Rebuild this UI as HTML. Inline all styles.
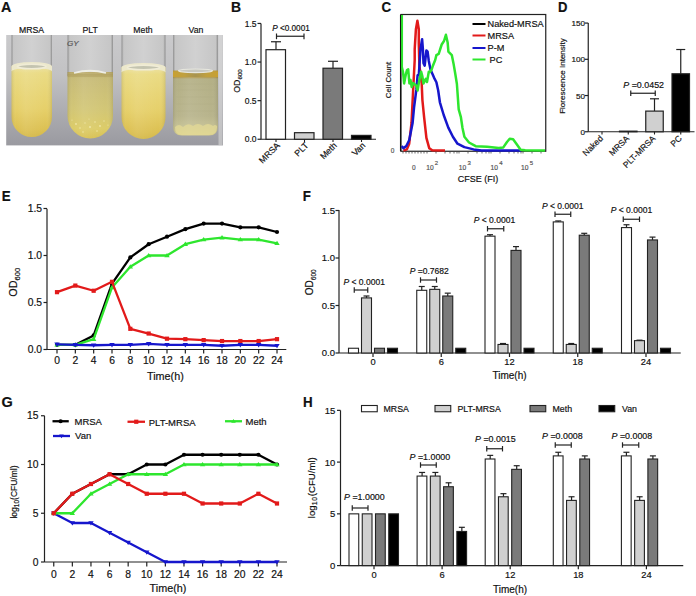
<!DOCTYPE html>
<html><head><meta charset="utf-8"><style>
html,body{margin:0;padding:0;background:#fff;}
svg{display:block;font-family:"Liberation Sans", sans-serif;}
text{stroke-width:0.18px;}
</style></head><body>
<svg width="696" height="596" viewBox="0 0 696 596">
<text x="0.00" y="0.00" font-size="14.3" text-anchor="start" font-weight="bold" fill="#111" stroke="#111" transform="translate(1.0 11.7) scale(1.0 1)">A</text>
<text x="0.00" y="0.00" font-size="14.5" text-anchor="start" font-weight="bold" fill="#111" stroke="#111" transform="translate(231.0 12.4) scale(0.96 1)">B</text>
<text x="0.00" y="0.00" font-size="14.5" text-anchor="start" font-weight="bold" fill="#111" stroke="#111" transform="translate(381.6 12.0) scale(0.92 1)">C</text>
<text x="0.00" y="0.00" font-size="14.5" text-anchor="start" font-weight="bold" fill="#111" stroke="#111" transform="translate(557.9 11.8) scale(0.9 1)">D</text>
<text x="0.00" y="0.00" font-size="14.5" text-anchor="start" font-weight="bold" fill="#111" stroke="#111" transform="translate(1.7 200.6) scale(0.92 1)">E</text>
<text x="0.00" y="0.00" font-size="14.5" text-anchor="start" font-weight="bold" fill="#111" stroke="#111" transform="translate(302.8 200.6) scale(0.92 1)">F</text>
<text x="0.00" y="0.00" font-size="14.5" text-anchor="start" font-weight="bold" fill="#111" stroke="#111" transform="translate(1.4 406.5) scale(1.0 1)">G</text>
<text x="0.00" y="0.00" font-size="14.5" text-anchor="start" font-weight="bold" fill="#111" stroke="#111" transform="translate(302.9 406.6) scale(0.92 1)">H</text>
<defs>
<linearGradient id="bg" x1="0" y1="0" x2="0" y2="1">
 <stop offset="0" stop-color="#cacacc"/><stop offset="0.35" stop-color="#c2c2c4"/><stop offset="0.7" stop-color="#acacb0"/><stop offset="1" stop-color="#9a9aa0"/></linearGradient>
<linearGradient id="yel" x1="0" y1="0" x2="0" y2="1">
 <stop offset="0" stop-color="#ece2a6"/><stop offset="0.1" stop-color="#eadb84"/><stop offset="0.6" stop-color="#e6d06a"/><stop offset="0.9" stop-color="#dcc052"/><stop offset="1" stop-color="#d4b848"/></linearGradient>
<linearGradient id="yelx" x1="0" y1="0" x2="1" y2="0">
 <stop offset="0" stop-color="#000" stop-opacity="0.10"/><stop offset="0.12" stop-color="#fff" stop-opacity="0.0"/><stop offset="0.35" stop-color="#fff" stop-opacity="0.08"/><stop offset="0.85" stop-color="#fff" stop-opacity="0.0"/><stop offset="1" stop-color="#000" stop-opacity="0.10"/></linearGradient>
<linearGradient id="plt" x1="0" y1="0" x2="0" y2="1">
 <stop offset="0" stop-color="#b8a868"/><stop offset="0.1" stop-color="#c8bc78"/><stop offset="0.55" stop-color="#d2c676"/><stop offset="0.85" stop-color="#dccc68"/><stop offset="1" stop-color="#d8c050"/></linearGradient>
<linearGradient id="van" x1="0" y1="0" x2="0" y2="1">
 <stop offset="0" stop-color="#c0a040"/><stop offset="0.1" stop-color="#b49848"/><stop offset="0.13" stop-color="#b4b086"/><stop offset="0.7" stop-color="#b8b48c"/><stop offset="0.85" stop-color="#c4c094"/><stop offset="1" stop-color="#d4cc8c"/></linearGradient>
<linearGradient id="glass" x1="0" y1="0" x2="1" y2="0">
 <stop offset="0" stop-color="#8a8a8a"/><stop offset="0.05" stop-color="#c6c6c6"/><stop offset="0.5" stop-color="#d2d2d2"/><stop offset="0.95" stop-color="#c6c6c6"/><stop offset="1" stop-color="#888888"/></linearGradient>
</defs>
<rect x="6.20" y="35.00" width="216.80" height="110.40" fill="url(#bg)" stroke="none" stroke-width="0"/>
<rect x="218.5" y="35" width="4" height="110.4" fill="#d8d8d8" opacity="0.6"/>
<rect x="11.50" y="35" width="40.50" height="35" fill="url(#glass)" opacity="0.9"/>
<path d="M11.5,66 L52,66 L52,116.75 A20.25,20.25 0 0 1 11.5,116.75 Z" fill="url(#yel)"/>
<path d="M11.5,66 L52,66 L52,116.75 A20.25,20.25 0 0 1 11.5,116.75 Z" fill="url(#yelx)"/>
<rect x="67.50" y="35" width="45.50" height="41" fill="url(#glass)" opacity="0.9"/>
<path d="M67.5,72 L113,72 L113,115.75 A22.75,22.75 0 0 1 67.5,115.75 Z" fill="url(#plt)"/>
<path d="M67.5,72 L113,72 L113,115.75 A22.75,22.75 0 0 1 67.5,115.75 Z" fill="url(#yelx)"/>
<rect x="121.50" y="35" width="44.00" height="36" fill="url(#glass)" opacity="0.9"/>
<path d="M121.5,67 L165.5,67 L165.5,117.0 A22.0,22.0 0 0 1 121.5,117.0 Z" fill="url(#yel)"/>
<path d="M121.5,67 L165.5,67 L165.5,117.0 A22.0,22.0 0 0 1 121.5,117.0 Z" fill="url(#yelx)"/>
<rect x="173.00" y="35" width="45.00" height="39.5" fill="url(#glass)" opacity="0.9"/>
<path d="M173,70.5 L218,70.5 L218,126.5 Q218,135.5 209,135.5 L182,135.5 Q173,135.5 173,126.5 Z" fill="url(#van)"/>
<path d="M173,70.5 L218,70.5 L218,126.5 Q218,135.5 209,135.5 L182,135.5 Q173,135.5 173,126.5 Z" fill="url(#yelx)"/>
<path d="M11.5,66.5 A20.25,4.5 0 0 1 52,66.5 L52,71.5 A20.25,3.5 0 0 0 11.5,71.5 Z" fill="#ece8cc"/>
<ellipse cx="31.75" cy="66.5" rx="14.25" ry="2.3" fill="#c4c4b0" stroke="#f0ecd6" stroke-width="1.6"/>
<path d="M121.5,67.5 A22.0,4.5 0 0 1 165.5,67.5 L165.5,72.5 A22.0,3.5 0 0 0 121.5,72.5 Z" fill="#ece8cc"/>
<ellipse cx="143.5" cy="67.5" rx="16.0" ry="2.3" fill="#c4c4b0" stroke="#f0ecd6" stroke-width="1.6"/>
<path d="M74,73 Q90,68.5 106,73" fill="none" stroke="#eeeee6" stroke-width="1.8"/>
<rect x="67.5" y="74" width="45.5" height="3" fill="#a08a48" opacity="0.25"/>
<circle cx="76" cy="124" r="0.9" fill="#f4ecb0" opacity="0.8"/>
<circle cx="80" cy="128" r="0.8" fill="#f4ecb0" opacity="0.8"/>
<circle cx="85" cy="123" r="0.7" fill="#f4ecb0" opacity="0.8"/>
<circle cx="90" cy="127" r="1.0" fill="#f4ecb0" opacity="0.8"/>
<circle cx="95" cy="122" r="0.8" fill="#f4ecb0" opacity="0.8"/>
<circle cx="100" cy="126" r="0.9" fill="#f4ecb0" opacity="0.8"/>
<circle cx="104" cy="121" r="0.7" fill="#f4ecb0" opacity="0.8"/>
<circle cx="83" cy="132" r="0.8" fill="#f4ecb0" opacity="0.8"/>
<circle cx="97" cy="131" r="0.8" fill="#f4ecb0" opacity="0.8"/>
<circle cx="72" cy="120" r="0.6" fill="#f4ecb0" opacity="0.8"/>
<circle cx="108" cy="125" r="0.6" fill="#f4ecb0" opacity="0.8"/>
<circle cx="89" cy="119" r="0.6" fill="#f4ecb0" opacity="0.8"/>
<linearGradient id="gold" x1="0" y1="0" x2="1" y2="0"><stop offset="0" stop-color="#c8a030"/><stop offset="0.25" stop-color="#c0a040"/><stop offset="0.5" stop-color="#a89450"/><stop offset="0.75" stop-color="#c0a040"/><stop offset="1" stop-color="#c8a030"/></linearGradient>
<rect x="173" y="71.5" width="45" height="5.5" fill="url(#gold)"/>
<ellipse cx="195.5" cy="70.8" rx="17" ry="1.8" fill="#c8c8c0" stroke="#e6e6de" stroke-width="1.2"/>
<path d="M175,127 Q179,123 183,127 Q188,122 193,126 Q198,122 203,126 Q208,122 213,126 Q215,124 217,126 L217,127.5 Q217,135 209,135 L182,135 Q175,135 175,127.5 Z" fill="#e6dc96" opacity="0.7"/>
<line x1="176" y1="84" x2="215" y2="84" stroke="#aca882" stroke-width="0.6" opacity="0.3"/>
<line x1="176" y1="90" x2="215" y2="90" stroke="#aca882" stroke-width="0.6" opacity="0.3"/>
<line x1="176" y1="97" x2="215" y2="97" stroke="#aca882" stroke-width="0.6" opacity="0.3"/>
<line x1="176" y1="104" x2="215" y2="104" stroke="#aca882" stroke-width="0.6" opacity="0.3"/>
<line x1="176" y1="111" x2="215" y2="111" stroke="#aca882" stroke-width="0.6" opacity="0.3"/>
<text x="67" y="46" font-size="8" fill="#555" font-style="italic" stroke="#555">GY</text>
<text x="31.60" y="33.00" font-size="8.7" text-anchor="middle" font-weight="normal" fill="#111" stroke="#111" >MRSA</text>
<text x="90.20" y="33.00" font-size="8.7" text-anchor="middle" font-weight="normal" fill="#111" stroke="#111" >PLT</text>
<text x="143.00" y="33.00" font-size="8.7" text-anchor="middle" font-weight="normal" fill="#111" stroke="#111" >Meth</text>
<text x="196.00" y="33.00" font-size="8.7" text-anchor="middle" font-weight="normal" fill="#111" stroke="#111" >Van</text>
<line x1="261.00" y1="23.50" x2="261.00" y2="139.25" stroke="#222" stroke-width="1.2" />
<line x1="261.00" y1="139.25" x2="376.00" y2="139.25" stroke="#222" stroke-width="1.2" />
<line x1="257.50" y1="139.25" x2="261.00" y2="139.25" stroke="#222" stroke-width="1.2" />
<text x="256.50" y="142.35" font-size="8.5" text-anchor="end" font-weight="normal" fill="#111" stroke="#111" >0.0</text>
<line x1="257.50" y1="100.65" x2="261.00" y2="100.65" stroke="#222" stroke-width="1.2" />
<text x="256.50" y="103.75" font-size="8.5" text-anchor="end" font-weight="normal" fill="#111" stroke="#111" >0.5</text>
<line x1="257.50" y1="62.05" x2="261.00" y2="62.05" stroke="#222" stroke-width="1.2" />
<text x="256.50" y="65.15" font-size="8.5" text-anchor="end" font-weight="normal" fill="#111" stroke="#111" >1.0</text>
<line x1="257.50" y1="23.45" x2="261.00" y2="23.45" stroke="#222" stroke-width="1.2" />
<text x="256.50" y="26.55" font-size="8.5" text-anchor="end" font-weight="normal" fill="#111" stroke="#111" >1.5</text>
<line x1="276.00" y1="41.75" x2="276.00" y2="49.70" stroke="#222" stroke-width="1.2" />
<line x1="271.00" y1="41.75" x2="281.00" y2="41.75" stroke="#222" stroke-width="1.2" />
<rect x="266.00" y="49.70" width="19.50" height="89.55" fill="#fff" stroke="#222" stroke-width="1.2"/>
<rect x="294.50" y="132.69" width="19.50" height="6.56" fill="#d0d0d0" stroke="#222" stroke-width="1.2"/>
<line x1="333.00" y1="61.28" x2="333.00" y2="68.23" stroke="#222" stroke-width="1.2" />
<line x1="328.00" y1="61.28" x2="338.00" y2="61.28" stroke="#222" stroke-width="1.2" />
<rect x="323.00" y="68.23" width="19.50" height="71.02" fill="#7a7a7a" stroke="#222" stroke-width="1.2"/>
<rect x="351.50" y="135.39" width="19.50" height="3.86" fill="#000" stroke="#222" stroke-width="1.2"/>
<line x1="276.00" y1="139.25" x2="276.00" y2="142.00" stroke="#222" stroke-width="1.1" />
<text x="280.50" y="146.00" font-size="8.8" text-anchor="end" font-weight="normal" fill="#111" stroke="#111" transform="rotate(-45 280.5 146)">MRSA</text>
<line x1="304.50" y1="139.25" x2="304.50" y2="142.00" stroke="#222" stroke-width="1.1" />
<text x="309.00" y="146.00" font-size="8.8" text-anchor="end" font-weight="normal" fill="#111" stroke="#111" transform="rotate(-45 309.0 146)">PLT</text>
<line x1="333.00" y1="139.25" x2="333.00" y2="142.00" stroke="#222" stroke-width="1.1" />
<text x="337.50" y="146.00" font-size="8.8" text-anchor="end" font-weight="normal" fill="#111" stroke="#111" transform="rotate(-45 337.5 146)">Meth</text>
<line x1="361.50" y1="139.25" x2="361.50" y2="142.00" stroke="#222" stroke-width="1.1" />
<text x="366.00" y="146.00" font-size="8.8" text-anchor="end" font-weight="normal" fill="#111" stroke="#111" transform="rotate(-45 366.0 146)">Van</text>
<line x1="276.50" y1="36.25" x2="304.00" y2="36.25" stroke="#222" stroke-width="1.2" />
<line x1="276.50" y1="33.50" x2="276.50" y2="39.20" stroke="#222" stroke-width="1.2" />
<line x1="304.00" y1="33.50" x2="304.00" y2="39.20" stroke="#222" stroke-width="1.2" />
<text x="272.20" y="30.50" font-size="8.2" text-anchor="start" font-weight="normal" fill="#111" stroke="#111" ><tspan font-style="italic">P</tspan> &lt;0.0001</text>
<text x="239.50" y="81.00" font-size="8.8" text-anchor="middle" font-weight="normal" fill="#111" stroke="#111" transform="rotate(-90 239.5 81)">OD<tspan font-size="6.2" dy="2">600</tspan></text>
<rect x="401" y="14.5" width="144.75" height="136.75" fill="none" stroke="#222" stroke-width="1.2"/>
<line x1="403.00" y1="151.25" x2="403.00" y2="153.50" stroke="#444" stroke-width="0.8" />
<line x1="406.00" y1="151.25" x2="406.00" y2="153.50" stroke="#444" stroke-width="0.8" />
<line x1="409.00" y1="151.25" x2="409.00" y2="153.50" stroke="#444" stroke-width="0.8" />
<line x1="412.00" y1="151.25" x2="412.00" y2="153.50" stroke="#444" stroke-width="0.8" />
<line x1="415.00" y1="151.25" x2="415.00" y2="153.50" stroke="#444" stroke-width="0.8" />
<line x1="418.00" y1="151.25" x2="418.00" y2="153.50" stroke="#444" stroke-width="0.8" />
<line x1="421.00" y1="151.25" x2="421.00" y2="153.50" stroke="#444" stroke-width="0.8" />
<line x1="424.00" y1="151.25" x2="424.00" y2="153.50" stroke="#444" stroke-width="0.8" />
<line x1="427.00" y1="151.25" x2="427.00" y2="153.50" stroke="#444" stroke-width="0.8" />
<line x1="436.00" y1="151.25" x2="436.00" y2="153.50" stroke="#444" stroke-width="0.8" />
<line x1="445.00" y1="151.25" x2="445.00" y2="153.50" stroke="#444" stroke-width="0.8" />
<line x1="450.00" y1="151.25" x2="450.00" y2="153.50" stroke="#444" stroke-width="0.8" />
<line x1="454.00" y1="151.25" x2="454.00" y2="153.50" stroke="#444" stroke-width="0.8" />
<line x1="457.00" y1="151.25" x2="457.00" y2="153.50" stroke="#444" stroke-width="0.8" />
<line x1="459.00" y1="151.25" x2="459.00" y2="153.50" stroke="#444" stroke-width="0.8" />
<line x1="468.00" y1="151.25" x2="468.00" y2="153.50" stroke="#444" stroke-width="0.8" />
<line x1="477.00" y1="151.25" x2="477.00" y2="153.50" stroke="#444" stroke-width="0.8" />
<line x1="482.00" y1="151.25" x2="482.00" y2="153.50" stroke="#444" stroke-width="0.8" />
<line x1="486.00" y1="151.25" x2="486.00" y2="153.50" stroke="#444" stroke-width="0.8" />
<line x1="489.00" y1="151.25" x2="489.00" y2="153.50" stroke="#444" stroke-width="0.8" />
<line x1="491.00" y1="151.25" x2="491.00" y2="153.50" stroke="#444" stroke-width="0.8" />
<line x1="500.00" y1="151.25" x2="500.00" y2="153.50" stroke="#444" stroke-width="0.8" />
<line x1="509.00" y1="151.25" x2="509.00" y2="153.50" stroke="#444" stroke-width="0.8" />
<line x1="514.00" y1="151.25" x2="514.00" y2="153.50" stroke="#444" stroke-width="0.8" />
<line x1="518.00" y1="151.25" x2="518.00" y2="153.50" stroke="#444" stroke-width="0.8" />
<line x1="521.00" y1="151.25" x2="521.00" y2="153.50" stroke="#444" stroke-width="0.8" />
<line x1="523.00" y1="151.25" x2="523.00" y2="153.50" stroke="#444" stroke-width="0.8" />
<line x1="532.00" y1="151.25" x2="532.00" y2="153.50" stroke="#444" stroke-width="0.8" />
<line x1="541.00" y1="151.25" x2="541.00" y2="153.50" stroke="#444" stroke-width="0.8" />
<text x="392.50" y="153.00" font-size="6.5" text-anchor="middle" font-weight="normal" fill="#555" stroke="#555" >0</text>
<text x="413.70" y="170.00" font-size="6.5" text-anchor="middle" font-weight="normal" fill="#555" stroke="#555" >0</text>
<text x="426.20" y="170.00" font-size="6.7" text-anchor="start" font-weight="normal" fill="#555" stroke="#555" >10<tspan font-size="6" dx="1.2" dy="-5">2</tspan></text>
<text x="458.80" y="170.00" font-size="6.7" text-anchor="start" font-weight="normal" fill="#555" stroke="#555" >10<tspan font-size="6" dx="1.2" dy="-5">3</tspan></text>
<text x="490.50" y="170.00" font-size="6.7" text-anchor="start" font-weight="normal" fill="#555" stroke="#555" >10<tspan font-size="6" dx="1.2" dy="-5">4</tspan></text>
<text x="521.00" y="170.00" font-size="6.7" text-anchor="start" font-weight="normal" fill="#555" stroke="#555" >10<tspan font-size="6" dx="1.2" dy="-5">5</tspan></text>
<text x="478.00" y="181.50" font-size="9" text-anchor="middle" font-weight="normal" fill="#111" stroke="#111" >CFSE (FI)</text>
<text x="391.00" y="80.00" font-size="7.8" text-anchor="middle" font-weight="normal" fill="#111" stroke="#111" transform="rotate(-90 391 80)">Cell Count</text>
<path d="M403.4,150.6 L406.9,149.4 L409.2,143.7 L411.5,123 L412.9,95.2 L414.7,60 L414.7,49.2 L415.9,29.3 L417.4,20.8 L418.8,29.3 L418.8,43.4 L419.4,65.7 L421.7,83.5 L422.4,100 L424.1,117.2 L426.4,137.9 L429.3,148.3 L432.2,150.3 L445,150.6" stroke="#e21a1a" stroke-width="2.5" fill="none" stroke-linejoin="round" />
<path d="M401.7,146 L403.4,148.3 L406.3,146 L409.2,140.2 L412.6,123 L414.1,107 L416.4,89.4 L417.6,75.3 L418.8,75 L420.5,49.2 L422.1,39.2 L422.9,49.2 L423.5,63.3 L424.7,65.7 L426.4,50.4 L427.6,51.6 L428.8,61 L430.5,69.4 L434,77.6 L436.4,82.3 L438.2,90.5 L439.9,102.3 L443.7,115 L448.3,127.6 L452.9,136.8 L457.5,143.7 L464.4,147.1 L473.6,149.4 L481.5,150.4 L521,150.6" stroke="#1616cc" stroke-width="2.5" fill="none" stroke-linejoin="round" />
<path d="M401.8,15 L401.8,40 L401.8,67 L403,72 L404.1,83.5 L405.9,74.1 L407,70 L408.2,69.4 L409.4,83.5 L410.5,80 L411.7,87 L413,83 L415.3,84.7 L416.5,86 L417.6,90.5 L419,82 L421.1,71.7 L422.3,76 L423.5,83.5 L425.8,78.8 L427,82 L428.8,71.7 L430,72 L431.7,69.4 L432.9,65.7 L435.2,60 L436.4,55.1 L438.7,53.9 L441.7,44.5 L444,41 L445.9,34.8 L447.6,42.2 L448.4,51.6 L451.8,55.1 L453.5,63.4 L455.3,74 L456.9,84 L458.7,109.3 L460.9,117.2 L462.5,128 L464.4,136.8 L469,142.5 L475.7,146.2 L487.2,146.8 L498.7,147.9 L503.3,147.4 L506.8,142.2 L509.7,138.7 L513.1,139.3 L516,143.3 L520.6,149.7 L525.2,150.3 L545,150.5" stroke="#2ee62e" stroke-width="2.5" fill="none" stroke-linejoin="round" />
<line x1="400.50" y1="14.50" x2="400.50" y2="151.25" stroke="#111" stroke-width="1.1" />
<line x1="472.50" y1="24.00" x2="485.50" y2="24.00" stroke="#000" stroke-width="2" />
<text x="487.50" y="27.30" font-size="9.2" text-anchor="start" font-weight="normal" fill="#111" stroke="#111" >Naked-MRSA</text>
<line x1="472.50" y1="35.50" x2="485.50" y2="35.50" stroke="#e21a1a" stroke-width="2" />
<text x="487.50" y="38.80" font-size="9.2" text-anchor="start" font-weight="normal" fill="#111" stroke="#111" >MRSA</text>
<line x1="472.50" y1="48.00" x2="485.50" y2="48.00" stroke="#1616cc" stroke-width="2" />
<text x="487.50" y="51.30" font-size="9.2" text-anchor="start" font-weight="normal" fill="#111" stroke="#111" >P-M</text>
<line x1="472.50" y1="59.50" x2="485.50" y2="59.50" stroke="#2ee62e" stroke-width="2" />
<text x="489.50" y="62.80" font-size="9.2" text-anchor="start" font-weight="normal" fill="#111" stroke="#111" >PC</text>
<line x1="588.25" y1="23.00" x2="588.25" y2="131.75" stroke="#222" stroke-width="1.2" />
<line x1="588.25" y1="131.75" x2="694.50" y2="131.75" stroke="#222" stroke-width="1.2" />
<line x1="584.80" y1="131.75" x2="588.25" y2="131.75" stroke="#222" stroke-width="1.2" />
<text x="585.00" y="134.75" font-size="8.1" text-anchor="end" font-weight="normal" fill="#111" stroke="#111" >0</text>
<line x1="584.80" y1="95.53" x2="588.25" y2="95.53" stroke="#222" stroke-width="1.2" />
<text x="585.00" y="98.53" font-size="8.1" text-anchor="end" font-weight="normal" fill="#111" stroke="#111" >50</text>
<line x1="584.80" y1="59.30" x2="588.25" y2="59.30" stroke="#222" stroke-width="1.2" />
<text x="585.00" y="62.30" font-size="8.1" text-anchor="end" font-weight="normal" fill="#111" stroke="#111" >100</text>
<line x1="584.80" y1="23.07" x2="588.25" y2="23.07" stroke="#222" stroke-width="1.2" />
<text x="585.00" y="26.07" font-size="8.1" text-anchor="end" font-weight="normal" fill="#111" stroke="#111" >150</text>
<rect x="619.50" y="131.17" width="17.50" height="0.58" fill="#fff" stroke="#222" stroke-width="1.2"/>
<line x1="654.50" y1="98.79" x2="654.50" y2="111.10" stroke="#222" stroke-width="1.2" />
<line x1="650.00" y1="98.79" x2="659.00" y2="98.79" stroke="#222" stroke-width="1.2" />
<rect x="645.75" y="111.10" width="17.50" height="20.65" fill="#d0d0d0" stroke="#222" stroke-width="1.2"/>
<line x1="680.75" y1="49.52" x2="680.75" y2="73.79" stroke="#222" stroke-width="1.2" />
<line x1="676.25" y1="49.52" x2="685.25" y2="49.52" stroke="#222" stroke-width="1.2" />
<rect x="672.00" y="73.79" width="17.50" height="57.96" fill="#000" stroke="#222" stroke-width="1.2"/>
<line x1="602.00" y1="131.75" x2="602.00" y2="134.50" stroke="#222" stroke-width="1.1" />
<text x="603.50" y="139.00" font-size="8.5" text-anchor="end" font-weight="normal" fill="#111" stroke="#111" transform="rotate(-45 603.5 139)">Naked</text>
<line x1="628.25" y1="131.75" x2="628.25" y2="134.50" stroke="#222" stroke-width="1.1" />
<text x="629.75" y="139.00" font-size="8.5" text-anchor="end" font-weight="normal" fill="#111" stroke="#111" transform="rotate(-45 629.75 139)">MRSA</text>
<line x1="654.50" y1="131.75" x2="654.50" y2="134.50" stroke="#222" stroke-width="1.1" />
<text x="656.00" y="139.00" font-size="8.5" text-anchor="end" font-weight="normal" fill="#111" stroke="#111" transform="rotate(-45 656.0 139)">PLT-MRSA</text>
<line x1="680.75" y1="131.75" x2="680.75" y2="134.50" stroke="#222" stroke-width="1.1" />
<text x="682.25" y="139.00" font-size="8.5" text-anchor="end" font-weight="normal" fill="#111" stroke="#111" transform="rotate(-45 682.25 139)">PC</text>
<line x1="630.75" y1="93.25" x2="655.25" y2="93.25" stroke="#222" stroke-width="1.2" />
<line x1="630.75" y1="90.50" x2="630.75" y2="96.00" stroke="#222" stroke-width="1.2" />
<line x1="655.25" y1="90.50" x2="655.25" y2="96.00" stroke="#222" stroke-width="1.2" />
<text x="623.30" y="88.00" font-size="8.9" text-anchor="start" font-weight="normal" fill="#111" stroke="#111" ><tspan font-style="italic">P</tspan> =0.0452</text>
<text x="565.00" y="76.00" font-size="8" text-anchor="middle" font-weight="normal" fill="#111" stroke="#111" transform="rotate(-90 565 76)">Florescence Intensity</text>
<line x1="47.00" y1="208.75" x2="47.00" y2="349.50" stroke="#222" stroke-width="1.2" />
<line x1="47.00" y1="349.50" x2="286.30" y2="349.50" stroke="#222" stroke-width="1.2" />
<line x1="43.50" y1="349.50" x2="47.00" y2="349.50" stroke="#222" stroke-width="1.2" />
<text x="42.00" y="353.20" font-size="10.3" text-anchor="end" font-weight="normal" fill="#111" stroke="#111" >0.0</text>
<line x1="43.50" y1="302.50" x2="47.00" y2="302.50" stroke="#222" stroke-width="1.2" />
<text x="42.00" y="306.20" font-size="10.3" text-anchor="end" font-weight="normal" fill="#111" stroke="#111" >0.5</text>
<line x1="43.50" y1="255.50" x2="47.00" y2="255.50" stroke="#222" stroke-width="1.2" />
<text x="42.00" y="259.20" font-size="10.3" text-anchor="end" font-weight="normal" fill="#111" stroke="#111" >1.0</text>
<line x1="43.50" y1="208.50" x2="47.00" y2="208.50" stroke="#222" stroke-width="1.2" />
<text x="42.00" y="212.20" font-size="10.3" text-anchor="end" font-weight="normal" fill="#111" stroke="#111" >1.5</text>
<line x1="57.00" y1="349.50" x2="57.00" y2="353.50" stroke="#222" stroke-width="1.2" />
<text x="57.00" y="363.80" font-size="10.3" text-anchor="middle" font-weight="normal" fill="#111" stroke="#111" >0</text>
<line x1="75.33" y1="349.50" x2="75.33" y2="353.50" stroke="#222" stroke-width="1.2" />
<text x="75.33" y="363.80" font-size="10.3" text-anchor="middle" font-weight="normal" fill="#111" stroke="#111" >2</text>
<line x1="93.67" y1="349.50" x2="93.67" y2="353.50" stroke="#222" stroke-width="1.2" />
<text x="93.67" y="363.80" font-size="10.3" text-anchor="middle" font-weight="normal" fill="#111" stroke="#111" >4</text>
<line x1="112.00" y1="349.50" x2="112.00" y2="353.50" stroke="#222" stroke-width="1.2" />
<text x="112.00" y="363.80" font-size="10.3" text-anchor="middle" font-weight="normal" fill="#111" stroke="#111" >6</text>
<line x1="130.34" y1="349.50" x2="130.34" y2="353.50" stroke="#222" stroke-width="1.2" />
<text x="130.34" y="363.80" font-size="10.3" text-anchor="middle" font-weight="normal" fill="#111" stroke="#111" >8</text>
<line x1="148.67" y1="349.50" x2="148.67" y2="353.50" stroke="#222" stroke-width="1.2" />
<text x="148.67" y="363.80" font-size="10.3" text-anchor="middle" font-weight="normal" fill="#111" stroke="#111" >10</text>
<line x1="167.00" y1="349.50" x2="167.00" y2="353.50" stroke="#222" stroke-width="1.2" />
<text x="167.00" y="363.80" font-size="10.3" text-anchor="middle" font-weight="normal" fill="#111" stroke="#111" >12</text>
<line x1="185.34" y1="349.50" x2="185.34" y2="353.50" stroke="#222" stroke-width="1.2" />
<text x="185.34" y="363.80" font-size="10.3" text-anchor="middle" font-weight="normal" fill="#111" stroke="#111" >14</text>
<line x1="203.67" y1="349.50" x2="203.67" y2="353.50" stroke="#222" stroke-width="1.2" />
<text x="203.67" y="363.80" font-size="10.3" text-anchor="middle" font-weight="normal" fill="#111" stroke="#111" >16</text>
<line x1="222.01" y1="349.50" x2="222.01" y2="353.50" stroke="#222" stroke-width="1.2" />
<text x="222.01" y="363.80" font-size="10.3" text-anchor="middle" font-weight="normal" fill="#111" stroke="#111" >18</text>
<line x1="240.34" y1="349.50" x2="240.34" y2="353.50" stroke="#222" stroke-width="1.2" />
<text x="240.34" y="363.80" font-size="10.3" text-anchor="middle" font-weight="normal" fill="#111" stroke="#111" >20</text>
<line x1="258.67" y1="349.50" x2="258.67" y2="353.50" stroke="#222" stroke-width="1.2" />
<text x="258.67" y="363.80" font-size="10.3" text-anchor="middle" font-weight="normal" fill="#111" stroke="#111" >22</text>
<line x1="277.01" y1="349.50" x2="277.01" y2="353.50" stroke="#222" stroke-width="1.2" />
<text x="277.01" y="363.80" font-size="10.3" text-anchor="middle" font-weight="normal" fill="#111" stroke="#111" >24</text>
<text x="165.40" y="379.50" font-size="10.8" text-anchor="middle" font-weight="normal" fill="#111" stroke="#111" >Time(h)</text>
<text x="17.50" y="282.30" font-size="10.8" text-anchor="middle" font-weight="normal" fill="#111" stroke="#111" transform="rotate(-90 17.5 282.3)">OD<tspan font-size="7.5" dy="3">600</tspan></text>
<path d="M57.00,344.80 L75.33,344.80 L93.67,335.40 L112.00,283.70 L130.34,257.38 L148.67,244.22 L167.00,236.70 L185.34,229.18 L203.67,223.54 L222.01,223.54 L240.34,227.30 L258.67,227.30 L277.01,232.00" stroke="#000" stroke-width="2.3" fill="none" stroke-linejoin="round" />
<circle cx="57.00" cy="344.80" r="2.1" fill="#000"/>
<circle cx="75.33" cy="344.80" r="2.1" fill="#000"/>
<circle cx="93.67" cy="335.40" r="2.1" fill="#000"/>
<circle cx="112.00" cy="283.70" r="2.1" fill="#000"/>
<circle cx="130.34" cy="257.38" r="2.1" fill="#000"/>
<circle cx="148.67" cy="244.22" r="2.1" fill="#000"/>
<circle cx="167.00" cy="236.70" r="2.1" fill="#000"/>
<circle cx="185.34" cy="229.18" r="2.1" fill="#000"/>
<circle cx="203.67" cy="223.54" r="2.1" fill="#000"/>
<circle cx="222.01" cy="223.54" r="2.1" fill="#000"/>
<circle cx="240.34" cy="227.30" r="2.1" fill="#000"/>
<circle cx="258.67" cy="227.30" r="2.1" fill="#000"/>
<circle cx="277.01" cy="232.00" r="2.1" fill="#000"/>
<path d="M57.00,344.80 L75.33,344.80 L93.67,339.16 L112.00,287.46 L130.34,266.78 L148.67,255.50 L167.00,255.50 L185.34,244.22 L203.67,239.52 L222.01,237.64 L240.34,239.52 L258.67,239.52 L277.01,243.28" stroke="#2ee62e" stroke-width="2.3" fill="none" stroke-linejoin="round" />
<path d="M54.30,346.60 L59.70,346.60 L57.00,342.20 Z" fill="#2ee62e"/>
<path d="M72.63,346.60 L78.03,346.60 L75.33,342.20 Z" fill="#2ee62e"/>
<path d="M90.97,340.96 L96.37,340.96 L93.67,336.56 Z" fill="#2ee62e"/>
<path d="M109.30,289.26 L114.70,289.26 L112.00,284.86 Z" fill="#2ee62e"/>
<path d="M127.64,268.58 L133.04,268.58 L130.34,264.18 Z" fill="#2ee62e"/>
<path d="M145.97,257.30 L151.37,257.30 L148.67,252.90 Z" fill="#2ee62e"/>
<path d="M164.30,257.30 L169.70,257.30 L167.00,252.90 Z" fill="#2ee62e"/>
<path d="M182.64,246.02 L188.04,246.02 L185.34,241.62 Z" fill="#2ee62e"/>
<path d="M200.97,241.32 L206.37,241.32 L203.67,236.92 Z" fill="#2ee62e"/>
<path d="M219.31,239.44 L224.71,239.44 L222.01,235.04 Z" fill="#2ee62e"/>
<path d="M237.64,241.32 L243.04,241.32 L240.34,236.92 Z" fill="#2ee62e"/>
<path d="M255.97,241.32 L261.37,241.32 L258.67,236.92 Z" fill="#2ee62e"/>
<path d="M274.31,245.08 L279.71,245.08 L277.01,240.68 Z" fill="#2ee62e"/>
<path d="M57.00,292.16 L75.33,285.58 L93.67,290.75 L112.00,281.82 L130.34,328.82 L148.67,333.52 L167.00,338.69 L185.34,339.16 L203.67,340.10 L222.01,341.04 L240.34,341.04 L258.67,341.04 L277.01,339.16" stroke="#e21a1a" stroke-width="2.3" fill="none" stroke-linejoin="round" />
<rect x="54.90" y="290.06" width="4.2" height="4.2" fill="#e21a1a"/>
<rect x="73.23" y="283.48" width="4.2" height="4.2" fill="#e21a1a"/>
<rect x="91.57" y="288.65" width="4.2" height="4.2" fill="#e21a1a"/>
<rect x="109.90" y="279.72" width="4.2" height="4.2" fill="#e21a1a"/>
<rect x="128.24" y="326.72" width="4.2" height="4.2" fill="#e21a1a"/>
<rect x="146.57" y="331.42" width="4.2" height="4.2" fill="#e21a1a"/>
<rect x="164.90" y="336.59" width="4.2" height="4.2" fill="#e21a1a"/>
<rect x="183.24" y="337.06" width="4.2" height="4.2" fill="#e21a1a"/>
<rect x="201.57" y="338.00" width="4.2" height="4.2" fill="#e21a1a"/>
<rect x="219.91" y="338.94" width="4.2" height="4.2" fill="#e21a1a"/>
<rect x="238.24" y="338.94" width="4.2" height="4.2" fill="#e21a1a"/>
<rect x="256.57" y="338.94" width="4.2" height="4.2" fill="#e21a1a"/>
<rect x="274.91" y="337.06" width="4.2" height="4.2" fill="#e21a1a"/>
<path d="M57.00,344.33 L75.33,344.80 L93.67,345.27 L112.00,344.80 L130.34,344.80 L148.67,343.86 L167.00,344.80 L185.34,344.80 L203.67,344.80 L222.01,345.74 L240.34,344.80 L258.67,344.80 L277.01,345.74" stroke="#1616cc" stroke-width="2.3" fill="none" stroke-linejoin="round" />
<path d="M54.30,342.53 L59.70,342.53 L57.00,346.93 Z" fill="#1616cc"/>
<path d="M72.63,343.00 L78.03,343.00 L75.33,347.40 Z" fill="#1616cc"/>
<path d="M90.97,343.47 L96.37,343.47 L93.67,347.87 Z" fill="#1616cc"/>
<path d="M109.30,343.00 L114.70,343.00 L112.00,347.40 Z" fill="#1616cc"/>
<path d="M127.64,343.00 L133.04,343.00 L130.34,347.40 Z" fill="#1616cc"/>
<path d="M145.97,342.06 L151.37,342.06 L148.67,346.46 Z" fill="#1616cc"/>
<path d="M164.30,343.00 L169.70,343.00 L167.00,347.40 Z" fill="#1616cc"/>
<path d="M182.64,343.00 L188.04,343.00 L185.34,347.40 Z" fill="#1616cc"/>
<path d="M200.97,343.00 L206.37,343.00 L203.67,347.40 Z" fill="#1616cc"/>
<path d="M219.31,343.94 L224.71,343.94 L222.01,348.34 Z" fill="#1616cc"/>
<path d="M237.64,343.00 L243.04,343.00 L240.34,347.40 Z" fill="#1616cc"/>
<path d="M255.97,343.00 L261.37,343.00 L258.67,347.40 Z" fill="#1616cc"/>
<path d="M274.31,343.94 L279.71,343.94 L277.01,348.34 Z" fill="#1616cc"/>
<line x1="339.00" y1="210.00" x2="339.00" y2="353.00" stroke="#222" stroke-width="1.2" />
<line x1="339.00" y1="353.00" x2="680.75" y2="353.00" stroke="#222" stroke-width="1.2" />
<line x1="335.50" y1="353.00" x2="339.00" y2="353.00" stroke="#222" stroke-width="1.2" />
<text x="335.00" y="356.40" font-size="9.5" text-anchor="end" font-weight="normal" fill="#111" stroke="#111" >0.0</text>
<line x1="335.50" y1="305.50" x2="339.00" y2="305.50" stroke="#222" stroke-width="1.2" />
<text x="335.00" y="308.90" font-size="9.5" text-anchor="end" font-weight="normal" fill="#111" stroke="#111" >0.5</text>
<line x1="335.50" y1="258.00" x2="339.00" y2="258.00" stroke="#222" stroke-width="1.2" />
<text x="335.00" y="261.40" font-size="9.5" text-anchor="end" font-weight="normal" fill="#111" stroke="#111" >1.0</text>
<line x1="335.50" y1="210.50" x2="339.00" y2="210.50" stroke="#222" stroke-width="1.2" />
<text x="335.00" y="213.90" font-size="9.5" text-anchor="end" font-weight="normal" fill="#111" stroke="#111" >1.5</text>
<text x="313.50" y="282.30" font-size="10" text-anchor="middle" font-weight="normal" fill="#111" stroke="#111" transform="rotate(-90 313.5 282.3)">OD<tspan font-size="6.5" dy="2.5">600</tspan></text>
<line x1="373.00" y1="353.00" x2="373.00" y2="357.00" stroke="#222" stroke-width="1.2" />
<text x="373.00" y="365.00" font-size="9.3" text-anchor="middle" font-weight="normal" fill="#111" stroke="#111" >0</text>
<rect x="348.50" y="348.25" width="10.00" height="4.75" fill="#fff" stroke="#222" stroke-width="1.1"/>
<line x1="366.50" y1="296.00" x2="366.50" y2="297.90" stroke="#222" stroke-width="1.2" />
<line x1="363.50" y1="296.00" x2="369.50" y2="296.00" stroke="#222" stroke-width="1.2" />
<rect x="361.50" y="297.90" width="10.00" height="55.10" fill="#d0d0d0" stroke="#222" stroke-width="1.1"/>
<rect x="374.50" y="348.25" width="10.00" height="4.75" fill="#7a7a7a" stroke="#222" stroke-width="1.1"/>
<rect x="387.50" y="348.25" width="10.00" height="4.75" fill="#000" stroke="#222" stroke-width="1.1"/>
<line x1="441.25" y1="353.00" x2="441.25" y2="357.00" stroke="#222" stroke-width="1.2" />
<text x="441.25" y="365.00" font-size="9.3" text-anchor="middle" font-weight="normal" fill="#111" stroke="#111" >6</text>
<line x1="421.75" y1="286.50" x2="421.75" y2="290.30" stroke="#222" stroke-width="1.2" />
<line x1="418.75" y1="286.50" x2="424.75" y2="286.50" stroke="#222" stroke-width="1.2" />
<rect x="416.75" y="290.30" width="10.00" height="62.70" fill="#fff" stroke="#222" stroke-width="1.1"/>
<line x1="434.75" y1="286.50" x2="434.75" y2="289.35" stroke="#222" stroke-width="1.2" />
<line x1="431.75" y1="286.50" x2="437.75" y2="286.50" stroke="#222" stroke-width="1.2" />
<rect x="429.75" y="289.35" width="10.00" height="63.65" fill="#d0d0d0" stroke="#222" stroke-width="1.1"/>
<line x1="447.75" y1="293.15" x2="447.75" y2="296.00" stroke="#222" stroke-width="1.2" />
<line x1="444.75" y1="293.15" x2="450.75" y2="293.15" stroke="#222" stroke-width="1.2" />
<rect x="442.75" y="296.00" width="10.00" height="57.00" fill="#7a7a7a" stroke="#222" stroke-width="1.1"/>
<rect x="455.75" y="348.25" width="10.00" height="4.75" fill="#000" stroke="#222" stroke-width="1.1"/>
<line x1="509.50" y1="353.00" x2="509.50" y2="357.00" stroke="#222" stroke-width="1.2" />
<text x="509.50" y="365.00" font-size="9.3" text-anchor="middle" font-weight="normal" fill="#111" stroke="#111" >12</text>
<line x1="490.00" y1="234.72" x2="490.00" y2="236.15" stroke="#222" stroke-width="1.2" />
<line x1="487.00" y1="234.72" x2="493.00" y2="234.72" stroke="#222" stroke-width="1.2" />
<rect x="485.00" y="236.15" width="10.00" height="116.85" fill="#fff" stroke="#222" stroke-width="1.1"/>
<line x1="503.00" y1="343.50" x2="503.00" y2="344.45" stroke="#222" stroke-width="1.2" />
<line x1="500.00" y1="343.50" x2="506.00" y2="343.50" stroke="#222" stroke-width="1.2" />
<rect x="498.00" y="344.45" width="10.00" height="8.55" fill="#d0d0d0" stroke="#222" stroke-width="1.1"/>
<line x1="516.00" y1="246.60" x2="516.00" y2="250.40" stroke="#222" stroke-width="1.2" />
<line x1="513.00" y1="246.60" x2="519.00" y2="246.60" stroke="#222" stroke-width="1.2" />
<rect x="511.00" y="250.40" width="10.00" height="102.60" fill="#7a7a7a" stroke="#222" stroke-width="1.1"/>
<rect x="524.00" y="348.25" width="10.00" height="4.75" fill="#000" stroke="#222" stroke-width="1.1"/>
<line x1="577.75" y1="353.00" x2="577.75" y2="357.00" stroke="#222" stroke-width="1.2" />
<text x="577.75" y="365.00" font-size="9.3" text-anchor="middle" font-weight="normal" fill="#111" stroke="#111" >18</text>
<line x1="558.25" y1="220.95" x2="558.25" y2="221.90" stroke="#222" stroke-width="1.2" />
<line x1="555.25" y1="220.95" x2="561.25" y2="220.95" stroke="#222" stroke-width="1.2" />
<rect x="553.25" y="221.90" width="10.00" height="131.10" fill="#fff" stroke="#222" stroke-width="1.1"/>
<line x1="571.25" y1="343.50" x2="571.25" y2="344.45" stroke="#222" stroke-width="1.2" />
<line x1="568.25" y1="343.50" x2="574.25" y2="343.50" stroke="#222" stroke-width="1.2" />
<rect x="566.25" y="344.45" width="10.00" height="8.55" fill="#d0d0d0" stroke="#222" stroke-width="1.1"/>
<line x1="584.25" y1="233.30" x2="584.25" y2="235.20" stroke="#222" stroke-width="1.2" />
<line x1="581.25" y1="233.30" x2="587.25" y2="233.30" stroke="#222" stroke-width="1.2" />
<rect x="579.25" y="235.20" width="10.00" height="117.80" fill="#7a7a7a" stroke="#222" stroke-width="1.1"/>
<rect x="592.25" y="348.25" width="10.00" height="4.75" fill="#000" stroke="#222" stroke-width="1.1"/>
<line x1="646.00" y1="353.00" x2="646.00" y2="357.00" stroke="#222" stroke-width="1.2" />
<text x="646.00" y="365.00" font-size="9.3" text-anchor="middle" font-weight="normal" fill="#111" stroke="#111" >24</text>
<line x1="626.50" y1="224.75" x2="626.50" y2="227.60" stroke="#222" stroke-width="1.2" />
<line x1="623.50" y1="224.75" x2="629.50" y2="224.75" stroke="#222" stroke-width="1.2" />
<rect x="621.50" y="227.60" width="10.00" height="125.40" fill="#fff" stroke="#222" stroke-width="1.1"/>
<line x1="639.50" y1="340.18" x2="639.50" y2="340.65" stroke="#222" stroke-width="1.2" />
<line x1="636.50" y1="340.18" x2="642.50" y2="340.18" stroke="#222" stroke-width="1.2" />
<rect x="634.50" y="340.65" width="10.00" height="12.35" fill="#d0d0d0" stroke="#222" stroke-width="1.1"/>
<line x1="652.50" y1="237.10" x2="652.50" y2="239.95" stroke="#222" stroke-width="1.2" />
<line x1="649.50" y1="237.10" x2="655.50" y2="237.10" stroke="#222" stroke-width="1.2" />
<rect x="647.50" y="239.95" width="10.00" height="113.05" fill="#7a7a7a" stroke="#222" stroke-width="1.1"/>
<rect x="660.50" y="348.25" width="10.00" height="4.75" fill="#000" stroke="#222" stroke-width="1.1"/>
<text x="509.50" y="378.50" font-size="10" text-anchor="middle" font-weight="normal" fill="#111" stroke="#111" >Time(h)</text>
<line x1="354.25" y1="290.00" x2="367.75" y2="290.00" stroke="#222" stroke-width="1.2" />
<line x1="354.25" y1="287.30" x2="354.25" y2="292.70" stroke="#222" stroke-width="1.2" />
<line x1="367.75" y1="287.30" x2="367.75" y2="292.70" stroke="#222" stroke-width="1.2" />
<text x="343.50" y="284.50" font-size="8.5" text-anchor="start" font-weight="normal" fill="#111" stroke="#111" ><tspan font-style="italic">P</tspan> &lt; 0.0001</text>
<line x1="420.50" y1="280.00" x2="436.50" y2="280.00" stroke="#222" stroke-width="1.2" />
<line x1="420.50" y1="277.30" x2="420.50" y2="282.70" stroke="#222" stroke-width="1.2" />
<line x1="436.50" y1="277.30" x2="436.50" y2="282.70" stroke="#222" stroke-width="1.2" />
<text x="409.75" y="273.75" font-size="8.5" text-anchor="start" font-weight="normal" fill="#111" stroke="#111" ><tspan font-style="italic">P</tspan> =0.7682</text>
<line x1="487.50" y1="228.75" x2="503.75" y2="228.75" stroke="#222" stroke-width="1.2" />
<line x1="487.50" y1="226.05" x2="487.50" y2="231.45" stroke="#222" stroke-width="1.2" />
<line x1="503.75" y1="226.05" x2="503.75" y2="231.45" stroke="#222" stroke-width="1.2" />
<text x="473.75" y="223.25" font-size="8.5" text-anchor="start" font-weight="normal" fill="#111" stroke="#111" ><tspan font-style="italic">P</tspan> &lt; 0.0001</text>
<line x1="555.00" y1="214.25" x2="570.75" y2="214.25" stroke="#222" stroke-width="1.2" />
<line x1="555.00" y1="211.55" x2="555.00" y2="216.95" stroke="#222" stroke-width="1.2" />
<line x1="570.75" y1="211.55" x2="570.75" y2="216.95" stroke="#222" stroke-width="1.2" />
<text x="542.00" y="208.75" font-size="8.5" text-anchor="start" font-weight="normal" fill="#111" stroke="#111" ><tspan font-style="italic">P</tspan> &lt; 0.0001</text>
<line x1="623.25" y1="219.25" x2="639.50" y2="219.25" stroke="#222" stroke-width="1.2" />
<line x1="623.25" y1="216.55" x2="623.25" y2="221.95" stroke="#222" stroke-width="1.2" />
<line x1="639.50" y1="216.55" x2="639.50" y2="221.95" stroke="#222" stroke-width="1.2" />
<text x="610.75" y="212.50" font-size="8.5" text-anchor="start" font-weight="normal" fill="#111" stroke="#111" ><tspan font-style="italic">P</tspan> &lt; 0.0001</text>
<line x1="44.50" y1="415.75" x2="44.50" y2="562.00" stroke="#222" stroke-width="1.2" />
<line x1="44.50" y1="562.00" x2="287.00" y2="562.00" stroke="#222" stroke-width="1.2" />
<line x1="41.00" y1="562.00" x2="44.50" y2="562.00" stroke="#222" stroke-width="1.2" />
<text x="38.50" y="565.70" font-size="10.3" text-anchor="end" font-weight="normal" fill="#111" stroke="#111" >0</text>
<line x1="41.00" y1="513.25" x2="44.50" y2="513.25" stroke="#222" stroke-width="1.2" />
<text x="38.50" y="516.95" font-size="10.3" text-anchor="end" font-weight="normal" fill="#111" stroke="#111" >5</text>
<line x1="41.00" y1="464.50" x2="44.50" y2="464.50" stroke="#222" stroke-width="1.2" />
<text x="38.50" y="468.20" font-size="10.3" text-anchor="end" font-weight="normal" fill="#111" stroke="#111" >10</text>
<line x1="41.00" y1="415.75" x2="44.50" y2="415.75" stroke="#222" stroke-width="1.2" />
<text x="38.50" y="419.45" font-size="10.3" text-anchor="end" font-weight="normal" fill="#111" stroke="#111" >15</text>
<line x1="53.75" y1="562.00" x2="53.75" y2="566.50" stroke="#222" stroke-width="1.2" />
<text x="53.75" y="577.80" font-size="10.3" text-anchor="middle" font-weight="normal" fill="#111" stroke="#111" >0</text>
<line x1="72.35" y1="562.00" x2="72.35" y2="566.50" stroke="#222" stroke-width="1.2" />
<text x="72.35" y="577.80" font-size="10.3" text-anchor="middle" font-weight="normal" fill="#111" stroke="#111" >2</text>
<line x1="90.96" y1="562.00" x2="90.96" y2="566.50" stroke="#222" stroke-width="1.2" />
<text x="90.96" y="577.80" font-size="10.3" text-anchor="middle" font-weight="normal" fill="#111" stroke="#111" >4</text>
<line x1="109.56" y1="562.00" x2="109.56" y2="566.50" stroke="#222" stroke-width="1.2" />
<text x="109.56" y="577.80" font-size="10.3" text-anchor="middle" font-weight="normal" fill="#111" stroke="#111" >6</text>
<line x1="128.17" y1="562.00" x2="128.17" y2="566.50" stroke="#222" stroke-width="1.2" />
<text x="128.17" y="577.80" font-size="10.3" text-anchor="middle" font-weight="normal" fill="#111" stroke="#111" >8</text>
<line x1="146.77" y1="562.00" x2="146.77" y2="566.50" stroke="#222" stroke-width="1.2" />
<text x="146.77" y="577.80" font-size="10.3" text-anchor="middle" font-weight="normal" fill="#111" stroke="#111" >10</text>
<line x1="165.37" y1="562.00" x2="165.37" y2="566.50" stroke="#222" stroke-width="1.2" />
<text x="165.37" y="577.80" font-size="10.3" text-anchor="middle" font-weight="normal" fill="#111" stroke="#111" >12</text>
<line x1="183.98" y1="562.00" x2="183.98" y2="566.50" stroke="#222" stroke-width="1.2" />
<text x="183.98" y="577.80" font-size="10.3" text-anchor="middle" font-weight="normal" fill="#111" stroke="#111" >14</text>
<line x1="202.58" y1="562.00" x2="202.58" y2="566.50" stroke="#222" stroke-width="1.2" />
<text x="202.58" y="577.80" font-size="10.3" text-anchor="middle" font-weight="normal" fill="#111" stroke="#111" >16</text>
<line x1="221.19" y1="562.00" x2="221.19" y2="566.50" stroke="#222" stroke-width="1.2" />
<text x="221.19" y="577.80" font-size="10.3" text-anchor="middle" font-weight="normal" fill="#111" stroke="#111" >18</text>
<line x1="239.79" y1="562.00" x2="239.79" y2="566.50" stroke="#222" stroke-width="1.2" />
<text x="239.79" y="577.80" font-size="10.3" text-anchor="middle" font-weight="normal" fill="#111" stroke="#111" >20</text>
<line x1="258.39" y1="562.00" x2="258.39" y2="566.50" stroke="#222" stroke-width="1.2" />
<text x="258.39" y="577.80" font-size="10.3" text-anchor="middle" font-weight="normal" fill="#111" stroke="#111" >22</text>
<line x1="277.00" y1="562.00" x2="277.00" y2="566.50" stroke="#222" stroke-width="1.2" />
<text x="277.00" y="577.80" font-size="10.3" text-anchor="middle" font-weight="normal" fill="#111" stroke="#111" >24</text>
<text x="168.00" y="592.30" font-size="10.8" text-anchor="middle" font-weight="normal" fill="#111" stroke="#111" >Time(h)</text>
<text x="17.00" y="492.00" font-size="8.5" text-anchor="middle" font-weight="normal" fill="#111" stroke="#111" transform="rotate(-90 17 492)">log<tspan font-size="6.5" dy="2">10</tspan><tspan dy="-2">(CFU/ml)</tspan></text>
<path d="M53.75,513.25 L72.35,493.75 L90.96,484.00 L109.56,474.25 L128.17,474.25 L146.77,464.50 L165.37,464.50 L183.98,454.75 L202.58,454.75 L221.19,454.75 L239.79,454.75 L258.39,454.75 L277.00,464.50" stroke="#000" stroke-width="2.3" fill="none" stroke-linejoin="round" />
<circle cx="53.75" cy="513.25" r="2.1" fill="#000"/>
<circle cx="72.35" cy="493.75" r="2.1" fill="#000"/>
<circle cx="90.96" cy="484.00" r="2.1" fill="#000"/>
<circle cx="109.56" cy="474.25" r="2.1" fill="#000"/>
<circle cx="128.17" cy="474.25" r="2.1" fill="#000"/>
<circle cx="146.77" cy="464.50" r="2.1" fill="#000"/>
<circle cx="165.37" cy="464.50" r="2.1" fill="#000"/>
<circle cx="183.98" cy="454.75" r="2.1" fill="#000"/>
<circle cx="202.58" cy="454.75" r="2.1" fill="#000"/>
<circle cx="221.19" cy="454.75" r="2.1" fill="#000"/>
<circle cx="239.79" cy="454.75" r="2.1" fill="#000"/>
<circle cx="258.39" cy="454.75" r="2.1" fill="#000"/>
<circle cx="277.00" cy="464.50" r="2.1" fill="#000"/>
<path d="M53.75,513.25 L72.35,523.00 L90.96,523.00 L109.56,532.75 L128.17,542.50 L146.77,552.25 L165.37,562.00 L183.98,562.00 L202.58,562.00 L221.19,562.00 L239.79,562.00 L258.39,562.00 L277.00,562.00" stroke="#1616cc" stroke-width="2.3" fill="none" stroke-linejoin="round" />
<path d="M51.05,511.45 L56.45,511.45 L53.75,515.85 Z" fill="#1616cc"/>
<path d="M69.65,521.20 L75.05,521.20 L72.35,525.60 Z" fill="#1616cc"/>
<path d="M88.26,521.20 L93.66,521.20 L90.96,525.60 Z" fill="#1616cc"/>
<path d="M106.86,530.95 L112.26,530.95 L109.56,535.35 Z" fill="#1616cc"/>
<path d="M125.47,540.70 L130.87,540.70 L128.17,545.10 Z" fill="#1616cc"/>
<path d="M144.07,550.45 L149.47,550.45 L146.77,554.85 Z" fill="#1616cc"/>
<path d="M162.67,560.20 L168.07,560.20 L165.37,564.60 Z" fill="#1616cc"/>
<path d="M181.28,560.20 L186.68,560.20 L183.98,564.60 Z" fill="#1616cc"/>
<path d="M199.88,560.20 L205.28,560.20 L202.58,564.60 Z" fill="#1616cc"/>
<path d="M218.49,560.20 L223.89,560.20 L221.19,564.60 Z" fill="#1616cc"/>
<path d="M237.09,560.20 L242.49,560.20 L239.79,564.60 Z" fill="#1616cc"/>
<path d="M255.69,560.20 L261.09,560.20 L258.39,564.60 Z" fill="#1616cc"/>
<path d="M274.30,560.20 L279.70,560.20 L277.00,564.60 Z" fill="#1616cc"/>
<path d="M53.75,513.25 L72.35,513.25 L90.96,493.75 L109.56,484.00 L128.17,474.25 L146.77,474.25 L165.37,474.25 L183.98,464.50 L202.58,464.50 L221.19,464.50 L239.79,464.50 L258.39,464.50 L277.00,464.50" stroke="#2ee62e" stroke-width="2.3" fill="none" stroke-linejoin="round" />
<path d="M51.05,515.05 L56.45,515.05 L53.75,510.65 Z" fill="#2ee62e"/>
<path d="M69.65,515.05 L75.05,515.05 L72.35,510.65 Z" fill="#2ee62e"/>
<path d="M88.26,495.55 L93.66,495.55 L90.96,491.15 Z" fill="#2ee62e"/>
<path d="M106.86,485.80 L112.26,485.80 L109.56,481.40 Z" fill="#2ee62e"/>
<path d="M125.47,476.05 L130.87,476.05 L128.17,471.65 Z" fill="#2ee62e"/>
<path d="M144.07,476.05 L149.47,476.05 L146.77,471.65 Z" fill="#2ee62e"/>
<path d="M162.67,476.05 L168.07,476.05 L165.37,471.65 Z" fill="#2ee62e"/>
<path d="M181.28,466.30 L186.68,466.30 L183.98,461.90 Z" fill="#2ee62e"/>
<path d="M199.88,466.30 L205.28,466.30 L202.58,461.90 Z" fill="#2ee62e"/>
<path d="M218.49,466.30 L223.89,466.30 L221.19,461.90 Z" fill="#2ee62e"/>
<path d="M237.09,466.30 L242.49,466.30 L239.79,461.90 Z" fill="#2ee62e"/>
<path d="M255.69,466.30 L261.09,466.30 L258.39,461.90 Z" fill="#2ee62e"/>
<path d="M274.30,466.30 L279.70,466.30 L277.00,461.90 Z" fill="#2ee62e"/>
<path d="M53.75,513.25 L72.35,493.75 L90.96,484.00 L109.56,474.25 L128.17,484.00 L146.77,493.75 L165.37,493.75 L183.98,493.75 L202.58,503.50 L221.19,503.50 L239.79,503.50 L258.39,493.75 L277.00,503.50" stroke="#e21a1a" stroke-width="2.3" fill="none" stroke-linejoin="round" />
<rect x="51.65" y="511.15" width="4.2" height="4.2" fill="#e21a1a"/>
<rect x="70.25" y="491.65" width="4.2" height="4.2" fill="#e21a1a"/>
<rect x="88.86" y="481.90" width="4.2" height="4.2" fill="#e21a1a"/>
<rect x="107.46" y="472.15" width="4.2" height="4.2" fill="#e21a1a"/>
<rect x="126.07" y="481.90" width="4.2" height="4.2" fill="#e21a1a"/>
<rect x="144.67" y="491.65" width="4.2" height="4.2" fill="#e21a1a"/>
<rect x="163.27" y="491.65" width="4.2" height="4.2" fill="#e21a1a"/>
<rect x="181.88" y="491.65" width="4.2" height="4.2" fill="#e21a1a"/>
<rect x="200.48" y="501.40" width="4.2" height="4.2" fill="#e21a1a"/>
<rect x="219.09" y="501.40" width="4.2" height="4.2" fill="#e21a1a"/>
<rect x="237.69" y="501.40" width="4.2" height="4.2" fill="#e21a1a"/>
<rect x="256.29" y="491.65" width="4.2" height="4.2" fill="#e21a1a"/>
<rect x="274.90" y="501.40" width="4.2" height="4.2" fill="#e21a1a"/>
<line x1="52.50" y1="421.25" x2="68.75" y2="421.25" stroke="#000" stroke-width="2.3" />
<circle cx="60.625" cy="421.25" r="2.1" fill="#000"/>
<text x="74.50" y="424.50" font-size="9.5" text-anchor="start" font-weight="normal" fill="#111" stroke="#111" >MRSA</text>
<line x1="53.00" y1="436.00" x2="70.00" y2="436.00" stroke="#1616cc" stroke-width="2.3" />
<path d="M59.2,434.4 L63.8,434.4 L61.5,438.2 Z" fill="#1616cc"/>
<text x="75.00" y="439.00" font-size="9.5" text-anchor="start" font-weight="normal" fill="#111" stroke="#111" >Van</text>
<line x1="127.50" y1="421.75" x2="145.00" y2="421.75" stroke="#e21a1a" stroke-width="2.3" />
<rect x="134.15" y="419.65" width="4.2" height="4.2" fill="#e21a1a"/>
<text x="148.75" y="426.30" font-size="9.5" text-anchor="start" font-weight="normal" fill="#111" stroke="#111" >PLT-MRSA</text>
<line x1="225.00" y1="421.25" x2="242.00" y2="421.25" stroke="#2ee62e" stroke-width="2.3" />
<path d="M231.2,422.85 L235.8,422.85 L233.5,419.05 Z" fill="#2ee62e"/>
<text x="245.50" y="424.50" font-size="9.5" text-anchor="start" font-weight="normal" fill="#111" stroke="#111" >Meth</text>
<line x1="340.50" y1="410.40" x2="340.50" y2="565.60" stroke="#222" stroke-width="1.2" />
<line x1="340.50" y1="565.60" x2="683.25" y2="565.60" stroke="#222" stroke-width="1.2" />
<line x1="337.00" y1="565.60" x2="340.50" y2="565.60" stroke="#222" stroke-width="1.2" />
<text x="335.30" y="569.00" font-size="9.5" text-anchor="end" font-weight="normal" fill="#111" stroke="#111" >0</text>
<line x1="337.00" y1="513.85" x2="340.50" y2="513.85" stroke="#222" stroke-width="1.2" />
<text x="335.30" y="517.25" font-size="9.5" text-anchor="end" font-weight="normal" fill="#111" stroke="#111" >5</text>
<line x1="337.00" y1="462.10" x2="340.50" y2="462.10" stroke="#222" stroke-width="1.2" />
<text x="335.30" y="465.50" font-size="9.5" text-anchor="end" font-weight="normal" fill="#111" stroke="#111" >10</text>
<line x1="337.00" y1="410.35" x2="340.50" y2="410.35" stroke="#222" stroke-width="1.2" />
<text x="335.30" y="413.75" font-size="9.5" text-anchor="end" font-weight="normal" fill="#111" stroke="#111" >15</text>
<text x="315.00" y="487.70" font-size="9.6" text-anchor="middle" font-weight="normal" fill="#111" stroke="#111" transform="rotate(-90 315 487.7)">log<tspan font-size="6.8" dy="2.2" letter-spacing="0.8">10</tspan><tspan dy="-2.2">(CFU/ml)</tspan></text>
<line x1="374.00" y1="565.60" x2="374.00" y2="569.20" stroke="#222" stroke-width="1.2" />
<text x="374.00" y="578.00" font-size="9.3" text-anchor="middle" font-weight="normal" fill="#111" stroke="#111" >0</text>
<rect x="349.00" y="513.85" width="9.75" height="51.75" fill="#fff" stroke="#222" stroke-width="1.1"/>
<rect x="362.25" y="513.85" width="9.75" height="51.75" fill="#d0d0d0" stroke="#222" stroke-width="1.1"/>
<rect x="375.50" y="513.85" width="9.75" height="51.75" fill="#7a7a7a" stroke="#222" stroke-width="1.1"/>
<rect x="388.75" y="513.85" width="9.75" height="51.75" fill="#000" stroke="#222" stroke-width="1.1"/>
<line x1="442.10" y1="565.60" x2="442.10" y2="569.20" stroke="#222" stroke-width="1.2" />
<text x="442.10" y="578.00" font-size="9.3" text-anchor="middle" font-weight="normal" fill="#111" stroke="#111" >6</text>
<line x1="422.10" y1="472.45" x2="422.10" y2="476.07" stroke="#222" stroke-width="1.2" />
<line x1="419.10" y1="472.45" x2="425.10" y2="472.45" stroke="#222" stroke-width="1.2" />
<rect x="417.10" y="476.07" width="9.75" height="89.53" fill="#fff" stroke="#222" stroke-width="1.1"/>
<line x1="435.35" y1="472.45" x2="435.35" y2="476.07" stroke="#222" stroke-width="1.2" />
<line x1="432.35" y1="472.45" x2="438.35" y2="472.45" stroke="#222" stroke-width="1.2" />
<rect x="430.35" y="476.07" width="9.75" height="89.53" fill="#d0d0d0" stroke="#222" stroke-width="1.1"/>
<line x1="448.60" y1="482.80" x2="448.60" y2="486.73" stroke="#222" stroke-width="1.2" />
<line x1="445.60" y1="482.80" x2="451.60" y2="482.80" stroke="#222" stroke-width="1.2" />
<rect x="443.60" y="486.73" width="9.75" height="78.87" fill="#7a7a7a" stroke="#222" stroke-width="1.1"/>
<line x1="461.85" y1="527.31" x2="461.85" y2="531.45" stroke="#222" stroke-width="1.2" />
<line x1="458.85" y1="527.31" x2="464.85" y2="527.31" stroke="#222" stroke-width="1.2" />
<rect x="456.85" y="531.45" width="9.75" height="34.15" fill="#000" stroke="#222" stroke-width="1.1"/>
<line x1="510.20" y1="565.60" x2="510.20" y2="569.20" stroke="#222" stroke-width="1.2" />
<text x="510.20" y="578.00" font-size="9.3" text-anchor="middle" font-weight="normal" fill="#111" stroke="#111" >12</text>
<line x1="490.20" y1="455.37" x2="490.20" y2="459.00" stroke="#222" stroke-width="1.2" />
<line x1="487.20" y1="455.37" x2="493.20" y2="455.37" stroke="#222" stroke-width="1.2" />
<rect x="485.20" y="459.00" width="9.75" height="106.61" fill="#fff" stroke="#222" stroke-width="1.1"/>
<line x1="503.45" y1="493.67" x2="503.45" y2="496.77" stroke="#222" stroke-width="1.2" />
<line x1="500.45" y1="493.67" x2="506.45" y2="493.67" stroke="#222" stroke-width="1.2" />
<rect x="498.45" y="496.77" width="9.75" height="68.83" fill="#d0d0d0" stroke="#222" stroke-width="1.1"/>
<line x1="516.70" y1="465.72" x2="516.70" y2="469.35" stroke="#222" stroke-width="1.2" />
<line x1="513.70" y1="465.72" x2="519.70" y2="465.72" stroke="#222" stroke-width="1.2" />
<rect x="511.70" y="469.35" width="9.75" height="96.25" fill="#7a7a7a" stroke="#222" stroke-width="1.1"/>
<line x1="578.30" y1="565.60" x2="578.30" y2="569.20" stroke="#222" stroke-width="1.2" />
<text x="578.30" y="578.00" font-size="9.3" text-anchor="middle" font-weight="normal" fill="#111" stroke="#111" >18</text>
<line x1="558.30" y1="452.27" x2="558.30" y2="455.89" stroke="#222" stroke-width="1.2" />
<line x1="555.30" y1="452.27" x2="561.30" y2="452.27" stroke="#222" stroke-width="1.2" />
<rect x="553.30" y="455.89" width="9.75" height="109.71" fill="#fff" stroke="#222" stroke-width="1.1"/>
<line x1="571.55" y1="496.77" x2="571.55" y2="500.40" stroke="#222" stroke-width="1.2" />
<line x1="568.55" y1="496.77" x2="574.55" y2="496.77" stroke="#222" stroke-width="1.2" />
<rect x="566.55" y="500.40" width="9.75" height="65.20" fill="#d0d0d0" stroke="#222" stroke-width="1.1"/>
<line x1="584.80" y1="455.89" x2="584.80" y2="459.00" stroke="#222" stroke-width="1.2" />
<line x1="581.80" y1="455.89" x2="587.80" y2="455.89" stroke="#222" stroke-width="1.2" />
<rect x="579.80" y="459.00" width="9.75" height="106.61" fill="#7a7a7a" stroke="#222" stroke-width="1.1"/>
<line x1="646.40" y1="565.60" x2="646.40" y2="569.20" stroke="#222" stroke-width="1.2" />
<text x="646.40" y="578.00" font-size="9.3" text-anchor="middle" font-weight="normal" fill="#111" stroke="#111" >24</text>
<line x1="626.40" y1="452.27" x2="626.40" y2="455.89" stroke="#222" stroke-width="1.2" />
<line x1="623.40" y1="452.27" x2="629.40" y2="452.27" stroke="#222" stroke-width="1.2" />
<rect x="621.40" y="455.89" width="9.75" height="109.71" fill="#fff" stroke="#222" stroke-width="1.1"/>
<line x1="639.65" y1="496.77" x2="639.65" y2="500.40" stroke="#222" stroke-width="1.2" />
<line x1="636.65" y1="496.77" x2="642.65" y2="496.77" stroke="#222" stroke-width="1.2" />
<rect x="634.65" y="500.40" width="9.75" height="65.20" fill="#d0d0d0" stroke="#222" stroke-width="1.1"/>
<line x1="652.90" y1="455.89" x2="652.90" y2="459.00" stroke="#222" stroke-width="1.2" />
<line x1="649.90" y1="455.89" x2="655.90" y2="455.89" stroke="#222" stroke-width="1.2" />
<rect x="647.90" y="459.00" width="9.75" height="106.61" fill="#7a7a7a" stroke="#222" stroke-width="1.1"/>
<text x="510.00" y="592.50" font-size="10" text-anchor="middle" font-weight="normal" fill="#111" stroke="#111" >Time(h)</text>
<line x1="352.25" y1="508.00" x2="368.00" y2="508.00" stroke="#222" stroke-width="1.2" />
<line x1="352.25" y1="505.30" x2="352.25" y2="510.70" stroke="#222" stroke-width="1.2" />
<line x1="368.00" y1="505.30" x2="368.00" y2="510.70" stroke="#222" stroke-width="1.2" />
<text x="344.00" y="500.00" font-size="8.9" text-anchor="start" font-weight="normal" fill="#111" stroke="#111" ><tspan font-style="italic">P</tspan> =1.0000</text>
<line x1="420.50" y1="465.00" x2="436.25" y2="465.00" stroke="#222" stroke-width="1.2" />
<line x1="420.50" y1="462.30" x2="420.50" y2="467.70" stroke="#222" stroke-width="1.2" />
<line x1="436.25" y1="462.30" x2="436.25" y2="467.70" stroke="#222" stroke-width="1.2" />
<text x="409.50" y="459.50" font-size="8.9" text-anchor="start" font-weight="normal" fill="#111" stroke="#111" ><tspan font-style="italic">P</tspan> =1.0000</text>
<line x1="486.75" y1="448.75" x2="502.50" y2="448.75" stroke="#222" stroke-width="1.2" />
<line x1="486.75" y1="446.05" x2="486.75" y2="451.45" stroke="#222" stroke-width="1.2" />
<line x1="502.50" y1="446.05" x2="502.50" y2="451.45" stroke="#222" stroke-width="1.2" />
<text x="475.00" y="442.00" font-size="8.9" text-anchor="start" font-weight="normal" fill="#111" stroke="#111" ><tspan font-style="italic">P</tspan> =0.0015</text>
<line x1="555.25" y1="445.00" x2="571.25" y2="445.00" stroke="#222" stroke-width="1.2" />
<line x1="555.25" y1="442.30" x2="555.25" y2="447.70" stroke="#222" stroke-width="1.2" />
<line x1="571.25" y1="442.30" x2="571.25" y2="447.70" stroke="#222" stroke-width="1.2" />
<text x="542.00" y="439.25" font-size="8.9" text-anchor="start" font-weight="normal" fill="#111" stroke="#111" ><tspan font-style="italic">P</tspan> =0.0008</text>
<line x1="622.50" y1="445.00" x2="638.75" y2="445.00" stroke="#222" stroke-width="1.2" />
<line x1="622.50" y1="442.30" x2="622.50" y2="447.70" stroke="#222" stroke-width="1.2" />
<line x1="638.75" y1="442.30" x2="638.75" y2="447.70" stroke="#222" stroke-width="1.2" />
<text x="611.50" y="439.25" font-size="8.9" text-anchor="start" font-weight="normal" fill="#111" stroke="#111" ><tspan font-style="italic">P</tspan> =0.0008</text>
<rect x="361.50" y="405.50" width="15.75" height="6.25" fill="#fff" stroke="#222" stroke-width="1.1"/>
<text x="383.50" y="412.00" font-size="8.8" text-anchor="start" font-weight="normal" fill="#111" stroke="#111" >MRSA</text>
<rect x="435.00" y="405.50" width="15.75" height="6.25" fill="#d0d0d0" stroke="#222" stroke-width="1.1"/>
<text x="457.50" y="412.00" font-size="8.8" text-anchor="start" font-weight="normal" fill="#111" stroke="#111" >PLT-MRSA</text>
<rect x="530.00" y="405.50" width="15.75" height="6.25" fill="#7a7a7a" stroke="#222" stroke-width="1.1"/>
<text x="552.50" y="412.00" font-size="8.8" text-anchor="start" font-weight="normal" fill="#111" stroke="#111" >Meth</text>
<rect x="599.00" y="405.50" width="15.75" height="6.25" fill="#000" stroke="#222" stroke-width="1.1"/>
<text x="622.00" y="412.00" font-size="8.8" text-anchor="start" font-weight="normal" fill="#111" stroke="#111" >Van</text>
</svg></body></html>
